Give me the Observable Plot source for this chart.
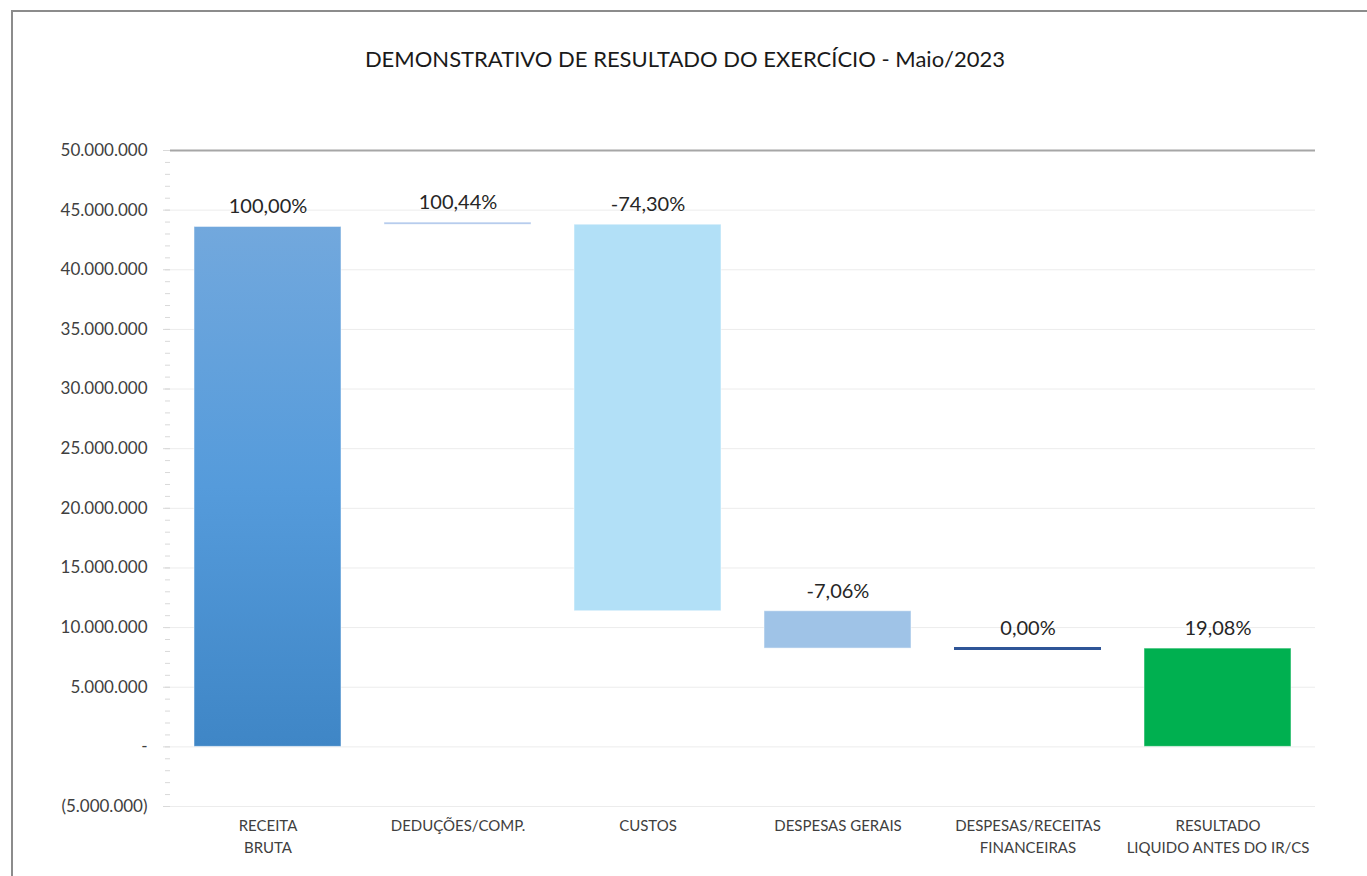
<!DOCTYPE html>
<html><head><meta charset="utf-8">
<script src="https://cdn.jsdelivr.net/npm/d3@7"></script>
<script src="https://cdn.jsdelivr.net/npm/@observablehq/plot@0.6"></script>
<style>
body{margin:0;background:#fff;font-family:Lato, "Open Sans", sans-serif;overflow:hidden;}
#frame{position:absolute;left:11px;top:10px;width:1400px;height:900px;border-left:2px solid #8c8c8c;border-top:2px solid #8c8c8c;}
#title{position:absolute;top:45px;left:0;width:1370px;text-align:center;font-size:22px;color:#1a1a1a;}
#chart{position:absolute;left:0;top:110px;}
</style></head><body>
<div id="frame"></div>
<div id="title">DEMONSTRATIVO DE RESULTADO DO EXERCÍCIO - Maio/2023</div>
<div id="chart"></div>
<script>
const categories = ["RECEITA\nBRUTA", "DEDUÇÕES/COMP.", "CUSTOS", "DESPESAS GERAIS", "DESPESAS/RECEITAS\nFINANCEIRAS", "RESULTADO\nLIQUIDO ANTES DO IR/CS"];
const barStart = [0, 43780000, 43780000, 11370000, 8240000, 0];
const barEnd = [43590000, 43950000, 11370000, 8240000, 8240000, 8240000];
const percentLabels = ["100,00%", "100,44%", "-74,30%", "-7,06%", "0,00%", "19,08%"];
const barColors = ["url(#gradReceita)", "#aac3ea", "#b2e0f7", "#9fc3e7", "#2f5597", "#00b050"];
const majorTicks = [-5000000, 0, 5000000, 10000000, 15000000, 20000000, 25000000, 30000000, 35000000, 40000000, 45000000, 50000000];
const minorTicks = d3.range(-5000000, 50000001, 1000000);

const data = categories.map((c, i) => ({cat: c, start: barStart[i], end: barEnd[i], label: percentLabels[i], color: barColors[i]}));
const bars = data.filter(d => d.start !== d.end);
const flats = data.filter(d => d.start === d.end);

const num = v => d3.format(",")(v).replace(/,/g, ".");
const yFmt = v => v === 0 ? "-" : v < 0 ? "(" + num(-v) + ")" : num(v);

const plot = Plot.plot({
  width: 1367,
  height: 766,
  marginTop: 40,
  marginBottom: 70,
  marginLeft: 170,
  marginRight: 52,
  style: {fontFamily: "Lato, 'Open Sans', sans-serif", background: "transparent"},
  x: {type: "band", domain: categories, paddingInner: 0.225, paddingOuter: 0.1125, label: null},
  y: {domain: [-5000000, 50000000], label: null},
  marks: [
    Plot.ruleY(majorTicks.filter(v => v !== 50000000), {stroke: "#ececec", strokeWidth: 1}),
    Plot.axisY({ticks: minorTicks, tickSize: 5, tickFormat: () => "", stroke: "#d9d9d9", label: null}),
    Plot.axisY({ticks: majorTicks, tickSize: 7, tickPadding: 16, tickFormat: yFmt, stroke: "#d9d9d9", fill: "#404040", fontSize: 17, label: null}),
    Plot.ruleX([0], {frameAnchor: "left", stroke: "#d9d9d9", strokeWidth: 1.5}),
    Plot.ruleY([50000000], {stroke: "#a6a6a6", strokeWidth: 2}),
    Plot.barY(bars, {x: "cat", y1: "start", y2: "end", fill: "color", stroke: "#ffffff", strokeOpacity: 0.5, strokeWidth: 1}),
    Plot.tickY(flats, {x: "cat", y: "end", stroke: "color", strokeWidth: 3}),
    Plot.text(data, {x: "cat", y: d => Math.max(d.start, d.end), text: "label", dy: -20, fontSize: 20, fill: "#262626"}),
    Plot.axisX({tickSize: 0, tickPadding: 9, fontSize: 15, lineHeight: 1.47, fill: "#404040", label: null})
  ]
});

const ns = "http://www.w3.org/2000/svg";
const defs = document.createElementNS(ns, "defs");
defs.innerHTML = '<linearGradient id="gradReceita" x1="0" y1="0" x2="0" y2="1"><stop offset="0" stop-color="#72a8dd"/><stop offset="0.5" stop-color="#559bdb"/><stop offset="1" stop-color="#3f86c6"/></linearGradient>';
plot.insertBefore(defs, plot.firstChild);
document.getElementById("chart").appendChild(plot);
</script>
</body></html>
